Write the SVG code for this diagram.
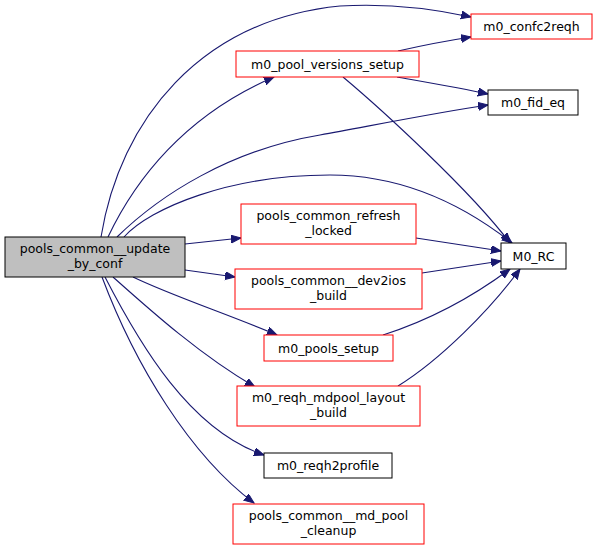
<svg xmlns="http://www.w3.org/2000/svg" width="600" height="550" viewBox="0 0 600 550">
<defs>
<style>
text{font-family:"DejaVu Sans","Liberation Sans",sans-serif;font-size:12.5px;fill:#000;text-anchor:middle}
.n rect{stroke-width:1}
.red rect{fill:#fff;stroke:#ff0000}
.blk rect{fill:#fff;stroke:#000}
.main rect{fill:#bfbfbf;stroke:#000}
.e path{fill:none;stroke:#191970;stroke-width:1.1}
</style>
<marker id="ah" markerUnits="userSpaceOnUse" markerWidth="11" markerHeight="9" refX="10" refY="4" orient="auto">
<path d="M0,0 L10,4 L0,8 Z" fill="#191970" stroke="#191970"/>
</marker>
</defs>
<rect width="600" height="550" fill="#fff"/>
<g id="connectors" class="e">
<path marker-end="url(#ah)" d="M101,237 C120,120 200,20 340,6 C390,3 430,8 471,17"/>
<path marker-end="url(#ah)" d="M108,237 C135,180 185,115 274,77"/>
<path marker-end="url(#ah)" d="M117,237 C160,195 230,150 320,135 C380,124 440,112 488,105"/>
<path marker-end="url(#ah)" d="M124,237 C150,208 230,175 330,175 C410,175 470,210 512,243"/>
<path marker-end="url(#ah)" d="M185,244 L241,238"/>
<path marker-end="url(#ah)" d="M185,270 L235,277"/>
<path marker-end="url(#ah)" d="M133,277 C170,295 230,315 277,335"/>
<path marker-end="url(#ah)" d="M113,277 C150,310 200,355 255,387"/>
<path marker-end="url(#ah)" d="M105,277 C140,345 190,430 264,455"/>
<path marker-end="url(#ah)" d="M102,277 C135,365 190,455 254,503"/>
<path marker-end="url(#ah)" d="M398,51 C420,46 445,41 471,37"/>
<path marker-end="url(#ah)" d="M397,77 C425,82 460,88 488,94"/>
<path marker-end="url(#ah)" d="M343,77 C380,108 470,190 510,243"/>
<path marker-end="url(#ah)" d="M416,238 L501,251"/>
<path marker-end="url(#ah)" d="M422,273 L501,261"/>
<path marker-end="url(#ah)" d="M383,335 C430,320 475,295 510,269"/>
<path marker-end="url(#ah)" d="M398,386 C440,360 490,310 520,269"/>
</g>
<g id="node-main" class="n main"><rect x="5" y="237" width="180" height="40"/><text x="95" y="252.5">pools_common__update</text><text x="95" y="267.5">_by_conf</text></g>
<g id="node-confc2reqh" class="n red"><rect x="471" y="14" width="121" height="25"/><text x="531.5" y="31">m0_confc2reqh</text></g>
<g id="node-pool-versions-setup" class="n red"><rect x="236" y="51" width="183" height="26"/><text x="327.5" y="68.5">m0_pool_versions_setup</text></g>
<g id="node-fid-eq" class="n blk"><rect x="488" y="90" width="90" height="25"/><text x="533" y="107">m0_fid_eq</text></g>
<g id="node-refresh-locked" class="n red"><rect x="241" y="204" width="175" height="40"/><text x="328.5" y="219.5">pools_common_refresh</text><text x="328.5" y="234.5">_locked</text></g>
<g id="node-m0-rc" class="n blk"><rect x="501" y="243" width="65" height="26"/><text x="533.5" y="260.5">M0_RC</text></g>
<g id="node-dev2ios" class="n red"><rect x="235" y="269" width="187" height="40"/><text x="328.5" y="284.5">pools_common__dev2ios</text><text x="328.5" y="299.5">_build</text></g>
<g id="node-pools-setup" class="n red"><rect x="264" y="335" width="129" height="26"/><text x="328.5" y="352.5">m0_pools_setup</text></g>
<g id="node-mdpool-layout" class="n red"><rect x="237" y="386" width="183" height="40"/><text x="328.5" y="401.5">m0_reqh_mdpool_layout</text><text x="328.5" y="416.5">_build</text></g>
<g id="node-reqh2profile" class="n blk"><rect x="264" y="453" width="128" height="25"/><text x="328" y="470">m0_reqh2profile</text></g>
<g id="node-md-pool-cleanup" class="n red"><rect x="233" y="504" width="191" height="40"/><text x="328.5" y="519.5">pools_common__md_pool</text><text x="328.5" y="534.5">_cleanup</text></g>
</svg>
